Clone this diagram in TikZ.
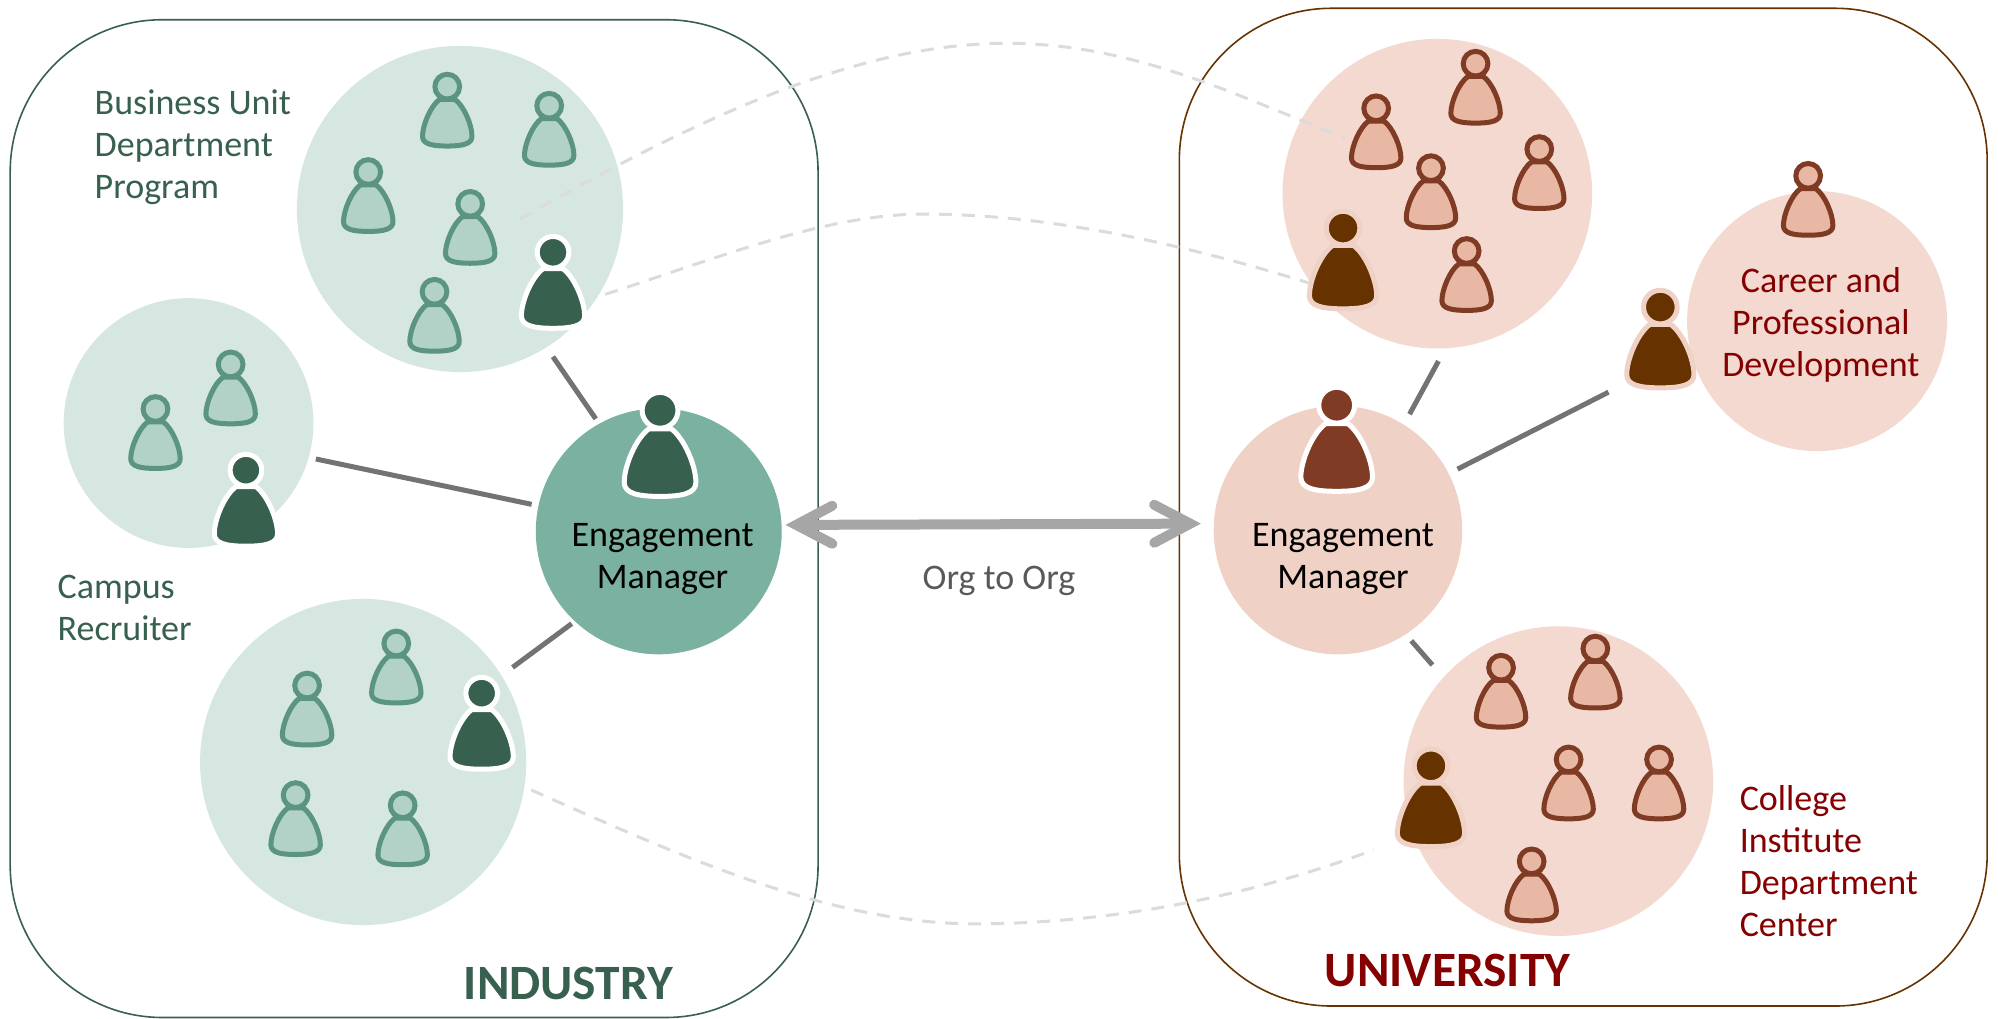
\documentclass[tikz,border=0pt]{standalone}
\usepackage{fontspec}
\setmainfont{Carlito}
\usetikzlibrary{arrows.meta}

\definecolor{greenbubble}{HTML}{D5E7E0}
\definecolor{greenmgr}{HTML}{7BB1A0}
\definecolor{greenfill}{HTML}{B2D2C8}
\definecolor{greenline}{HTML}{5B9480}
\definecolor{greendark}{HTML}{38604F}
\definecolor{brownbubble}{HTML}{F3D9CF}
\definecolor{brownmgr}{HTML}{F0D1C6}
\definecolor{brownfill}{HTML}{E8B8A4}
\definecolor{brownline}{HTML}{7F3B23}
\definecolor{browndark}{HTML}{663300}
\definecolor{redtext}{HTML}{850000}

\tikzset{
  every bubble/.style={circle, inner sep=0pt, outer sep=0pt},
  greencircle/.style={every bubble, fill=greenbubble, minimum size=#1*0.6371pt},
  browncircle/.style={every bubble, fill=brownbubble, minimum size=#1*0.6371pt},
  frame/.style={rectangle, rounded corners=76pt, line width=0.8pt, inner sep=0pt,
    minimum width=634*0.6371pt, minimum height=783*0.6371pt},
  link/.style={draw=black!55!white, line width=2.5pt},
  faint/.style={draw=black!14, line width=1.5pt, dash pattern=on 6.5pt off 5pt},
  label/.style={font=\fontsize{18}{21}\selectfont, inner sep=0pt},
  pics/person/.style 2 args={code={
    \draw [fill=#1, draw=#2, line width=2.5pt, line join=round]
      (0,46.6) .. controls (-12,46.6) and (-19.4,45) .. (-19.4,39)
      .. controls (-19.4,30) and (-13,15) .. (-6,10) -- (6,10)
      .. controls (13,15) and (19.4,30) .. (19.4,39)
      .. controls (19.4,45) and (12,46.6) .. (0,46.6) -- cycle;
    \draw [fill=#1, draw=#2, line width=2.5pt] (0,0) circle (9.7);
  }}
}

\begin{document}
\begin{tikzpicture}[x=0.6371pt, y=-0.6371pt]
\useasboundingbox (0,0) rectangle (1568,799);

\node [frame, draw=greendark] (industry) at (325,407) {};
\node [frame, draw=browndark] (university) at (1242.5,398) {};

\node [greencircle=256] (unit) at (361,164) {};
\node [greencircle=196] (campus) at (148,332) {};
\node [greencircle=256] (program) at (285,598) {};
\node [every bubble, fill=greenmgr, minimum size=193*0.6371pt] (mgr-i) at (517,417) {};

\node [browncircle=243] (college) at (1128,152) {};
\node [browncircle=204] (career) at (1426,252) {};
\node [browncircle=243] (institute) at (1223,613) {};
\node [every bubble, fill=brownmgr, minimum size=195*0.6371pt] (mgr-u) at (1050,416) {};

\coordinate (dash-1a) at (408,172);
\coordinate (dash-1m) at (790,34);
\coordinate (dash-1b) at (1055,108);
\coordinate (dash-2a) at (475,231);
\coordinate (dash-2m) at (725,168);
\coordinate (dash-2b) at (1027,222);
\coordinate (dash-3a) at (417,620);
\coordinate (dash-3m) at (765,725);
\coordinate (dash-3b) at (1078,667);

\draw [faint] (dash-1a) .. controls (560,85) and (680,34) .. (dash-1m)
  .. controls (890,34) and (970,75) .. (dash-1b);
\draw [faint] (dash-2a) .. controls (570,200) and (650,168) .. (dash-2m)
  .. controls (830,168) and (940,195) .. (dash-2b);
\draw [faint] (dash-3a) .. controls (530,670) and (650,725) .. (dash-3m)
  .. controls (880,725) and (990,700) .. (dash-3b);

\draw [link, shorten <=5.7pt, shorten >=3pt] (unit.-58) -- (mgr-i.119);
\draw [link, shorten <=3.7pt, shorten >=3.5pt] (campus.-16) -- (mgr-i.168);
\draw [link, shorten <=6.9pt, shorten >=2pt] (program.32) -- (mgr-i.227);
\draw [link, shorten <=7.3pt, shorten >=6pt] (college.-87) -- (mgr-u.58);
\draw [link, shorten <=5pt, shorten >=46pt] (mgr-u.27) -- (career.193);
\draw [link, shorten <=4.3pt, shorten >=8.3pt] (mgr-u.-57) -- (institute.138);

\draw [draw=black!35, line width=5pt, {Straight Barb[length=18pt, width=19pt, line cap=round]}-{Straight Barb[length=18pt, width=19pt, line cap=round]}, shorten <=2pt, shorten >=6.5pt] (mgr-i.3.6) -- (mgr-u.177);

\foreach \m/\x/\y in {1/351/68, 2/431/83, 3/289/135, 4/369/160, 5/341/229,
                      6/181/286, 7/122/321,
                      8/311/505, 9/241/538, 10/232/624, 11/316/632}
  \pic at (\x,\y) {person={greenfill}{greenline}};

\foreach \m/\x/\y in {1/1158/50, 2/1080/85, 3/1123/132, 4/1208/117, 5/1151/197,
                      6/1419/138,
                      7/1178/524, 8/1252/509, 9/1231/596, 10/1302/596, 11/1202/676}
  \pic at (\x,\y) {person={brownfill}{brownline}};

\foreach \x/\y in {434/198, 193/369, 378/544}
  \pic [scale=1.28] at (\x,\y) {person={greendark}{white}};

\foreach \x/\y in {1054/179, 1303/241, 1123/601}
  \pic [scale=1.36] at (\x,\y) {person={browndark}{brownmgr}};

\pic [scale=1.45] at (518,322) {person={greendark}{white}};
\pic [scale=1.45] at (1049,318) {person={brownline}{white}};

\node [label, align=center] (mgr-i-text) at (520,439) {Engagement\\Manager};
\node [label, align=center] (mgr-u-text) at (1054,439) {Engagement\\Manager};
\node [label, text=black!65] (org) at (784,456) {Org to Org};

\node [label, align=left, anchor=north west, text=greendark] (unit-text) at (74,70) {Business Unit\\Department\\Program};
\node [label, align=left, anchor=north west, text=greendark] (campus-text) at (45,451) {Campus\\Recruiter};
\node [label, align=center, text=redtext] (career-text) at (1429,255) {Career and\\Professional\\Development};
\node [label, align=left, anchor=north west, text=redtext] (college-text) at (1365,616) {College\\Institute\\Department\\Center};

\node [font=\fontsize{24.7}{28}\selectfont\bfseries, text=greendark, inner sep=0pt] (industry-text) at (446,772) {INDUSTRY};
\node [font=\fontsize{24.7}{28}\selectfont\bfseries, text=redtext, inner sep=0pt] (university-text) at (1136,762) {UNIVERSITY};

\end{tikzpicture}
\end{document}
